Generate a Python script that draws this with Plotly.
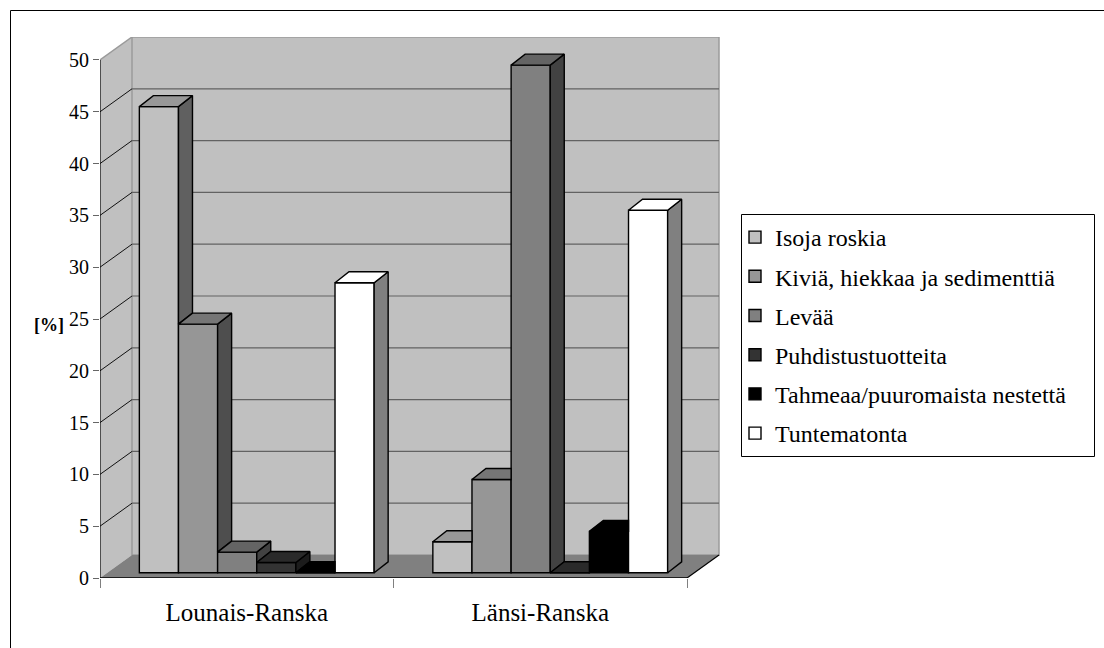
import plotly.graph_objects as go

# ---- data -------------------------------------------------------------
categories = ["Lounais-Ranska", "Länsi-Ranska"]
series_names = [
    "Isoja roskia",
    "Kiviä, hiekkaa ja sedimenttiä",
    "Levää",
    "Puhdistustuotteita",
    "Tahmeaa/puuromaista nestettä",
    "Tuntematonta",
]
isoja_roskia = [45, 3]
kivia_hiekkaa_sedimenttia = [24, 9]
levaa = [2, 49]
puhdistustuotteita = [1, 0]
tahmeaa_neste = [0, 4]
tuntematonta = [28, 35]
y_tick_values = [0, 5, 10, 15, 20, 25, 30, 35, 40, 45, 50]

series_values = [
    isoja_roskia,
    kivia_hiekkaa_sedimenttia,
    levaa,
    puhdistustuotteita,
    tahmeaa_neste,
    tuntematonta,
]

# ---- styling ----------------------------------------------------------
front_colors = ["#C0C0C0", "#969696", "#808080", "#333333", "#000000", "#FFFFFF"]
top_colors = ["#989898", "#767676", "#646464", "#2A2A2A", "#000000", "#FFFFFF"]
side_colors = ["#606060", "#4E4E4E", "#424242", "#1C1C1C", "#000000", "#808080"]
FONT = "Liberation Serif, Times New Roman, serif"

W, H = 1104, 648
M_L, M_R, M_T, M_B = 100, 384, 37, 70
PLOT_W = W - M_L - M_R
PLOT_H = H - M_T - M_B

PX_PER_CAT = 293.5          # pixels per category slot on the front plane
PX_PER_VAL = 10.364         # pixels per percent on the front plane
X_MAX = PLOT_W / PX_PER_CAT
Y_TOP = 50 + 23 / PX_PER_VAL

# oblique depth of the walls / floor
WALL_DX = 32 / PX_PER_CAT
WALL_DY = 23 / PX_PER_VAL
# depth of the columns and their offset inside the floor
BAR_DX = 14 / PX_PER_CAT
BAR_DY = 11 / PX_PER_VAL
BAR_SHIFT = 10 / PX_PER_CAT
BAR_BASE = 5.2 / PX_PER_VAL
GROUP_W = 0.8
BAR_W = GROUP_W / len(series_names)


def paper_x(px):
    return (px - M_L) / PLOT_W


def paper_y(py):
    return (H - M_B - py) / PLOT_H


fig = go.Figure()

# front faces of the columns
centers = []
for i, name in enumerate(series_names):
    xs = [c + 0.5 + BAR_SHIFT + (i - (len(series_names) - 1) / 2) * BAR_W
          for c in range(len(categories))]
    centers.append(xs)
    fig.add_trace(go.Bar(
        x=xs, y=series_values[i], base=BAR_BASE, width=BAR_W,
        name=name, legendgroup=name,
        marker=dict(color=front_colors[i], line=dict(color="black", width=1.4)),
        hoverinfo="skip",
    ))


def face(xs, ys, color):
    fig.add_trace(go.Scatter(
        x=xs + [xs[0]], y=ys + [ys[0]], mode="lines", fill="toself",
        fillcolor=color, line=dict(color="black", width=1.4),
        showlegend=False, hoverinfo="skip",
    ))


# side and top faces, clipped where the neighbouring column hides them
n = len(series_names)
for c in range(len(categories)):
    for i in range(n):
        v = series_values[i][c]
        nxt = series_values[i + 1][c] if i < n - 1 else 0
        x0 = centers[i][c] - BAR_W / 2
        x1 = centers[i][c] + BAR_W / 2
        top = BAR_BASE + v
        if i == n - 1 or v > nxt:
            lo = BAR_BASE + nxt
            face([x1, x1, x1 + BAR_DX, x1 + BAR_DX],
                 [lo, top, top + BAR_DY, lo + BAR_DY], side_colors[i])
            face([x0, x0 + BAR_DX, x1 + BAR_DX, x1],
                 [top, top + BAR_DY, top + BAR_DY, top], top_colors[i])
        else:
            face([x0, x0 + BAR_DX, x1, x1],
                 [top, top + BAR_DY, top + BAR_DY, top], top_colors[i])

# ---- walls, floor, grid ----------------------------------------------
shapes = []
shapes.append(dict(type="path", xref="x", yref="y", layer="below",
                   path=f"M0,0 L0,50 L{WALL_DX},{50 + WALL_DY} L{WALL_DX},{WALL_DY} Z",
                   fillcolor="#C0C0C0", line=dict(width=0)))
shapes.append(dict(type="rect", xref="x", yref="y", layer="below",
                   x0=WALL_DX, x1=2 + WALL_DX, y0=WALL_DY, y1=50 + WALL_DY,
                   fillcolor="#C0C0C0", line=dict(color="#9A9A9A", width=1.5)))
shapes.append(dict(type="path", xref="x", yref="y", layer="below",
                   path=f"M0,0 L2,0 L{2 + WALL_DX},{WALL_DY} L{WALL_DX},{WALL_DY} Z",
                   fillcolor="#808080", line=dict(width=0)))
for v in y_tick_values[1:-1]:
    shapes.append(dict(type="line", xref="x", yref="y", layer="below",
                       x0=WALL_DX, x1=2 + WALL_DX, y0=v + WALL_DY, y1=v + WALL_DY,
                       line=dict(color="#626262", width=1.2)))
    shapes.append(dict(type="line", xref="x", yref="y", layer="below",
                       x0=0, x1=WALL_DX, y0=v, y1=v + WALL_DY,
                       line=dict(color="#111111", width=1)))
shapes.append(dict(type="line", xref="x", yref="y", layer="below",
                   x0=0, x1=WALL_DX, y0=50, y1=50 + WALL_DY,
                   line=dict(color="#9A9A9A", width=1.5)))
shapes.append(dict(type="line", xref="x", yref="y", layer="below",
                   x0=2, x1=2 + WALL_DX, y0=0, y1=WALL_DY,
                   line=dict(color="black", width=1.2)))
# front axis lines
shapes.append(dict(type="line", xref="x", yref="y", x0=0, x1=0, y0=0, y1=50,
                   line=dict(color="black", width=1.2)))
shapes.append(dict(type="line", xref="x", yref="y", x0=0, x1=2, y0=0, y1=0,
                   line=dict(color="black", width=1.5)))
# chart frame and legend frame
shapes.append(dict(type="rect", xref="paper", yref="paper",
                   x0=paper_x(10.5), x1=paper_x(W + 20), y0=paper_y(10.5), y1=paper_y(H + 20),
                   line=dict(color="black", width=1)))
shapes.append(dict(type="rect", xref="paper", yref="paper",
                   x0=paper_x(741.5), x1=paper_x(1094.5), y0=paper_y(214.5), y1=paper_y(456.5),
                   line=dict(color="black", width=1)))

fig.update_layout(
    width=W, height=H,
    margin=dict(l=M_L, r=M_R, t=M_T, b=M_B, pad=0),
    paper_bgcolor="white", plot_bgcolor="rgba(0,0,0,0)",
    barmode="overlay",
    showlegend=True,
    shapes=shapes,
    font=dict(family=FONT, color="black"),
    xaxis=dict(
        range=[0, X_MAX], showgrid=False, zeroline=False, showline=False,
        tickvals=[0.5, 1.5], ticktext=categories, ticks="",
        tickfont=dict(family=FONT, size=25, color="black"),
        ticklabelstandoff=17, automargin=False, fixedrange=True,
        minor=dict(tickvals=[0, 1, 2], ticks="outside", ticklen=9,
                   tickcolor="#808080", tickwidth=1.2, showgrid=False),
    ),
    yaxis=dict(
        range=[0, Y_TOP], showgrid=False, zeroline=False, showline=False,
        tickvals=y_tick_values, ticks="outside", ticklen=6, tickcolor="#666666",
        tickwidth=1.2, tickfont=dict(family=FONT, size=20, color="black"),
        automargin=False, fixedrange=True,
    ),
    legend=dict(
        xref="container", yref="container",
        x=735 / W, y=1 - 215 / H, xanchor="left", yanchor="top",
        bgcolor="rgba(0,0,0,0)", borderwidth=0,
        font=dict(family=FONT, size=24, color="black"),
        traceorder="grouped", tracegroupgap=5,
    ),
    annotations=[dict(
        text="<b>[%]</b>", xref="paper", yref="paper",
        x=paper_x(49), y=paper_y(325), xanchor="center", yanchor="middle",
        showarrow=False,
        font=dict(family=FONT, size=18, color="black"),
    )],
)

fig.write_html("out.html")
